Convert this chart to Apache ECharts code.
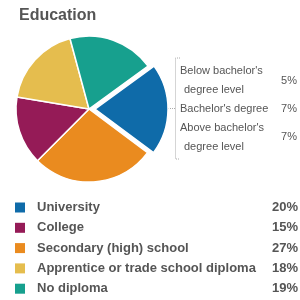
<!DOCTYPE html>
<html><head><meta charset="utf-8">
<script src="https://cdn.jsdelivr.net/npm/echarts@6/dist/echarts.min.js"></script>
<style>html,body{margin:0;padding:0;background:#fff}#c{width:300px;height:300px}</style>
</head><body><div id="c"></div>
<script>
const categories = ['University', 'College', 'Secondary (high) school', 'Apprentice or trade school diploma', 'No diploma'];
const values = [20, 15, 27, 18, 19];
const colors = ['#0F6BA9', '#951B57', '#EA8B1F', '#E5BD4E', '#17A08E'];
const pieOrder = ['University', 'Secondary (high) school', 'College', 'Apprentice or trade school diploma', 'No diploma'];
const subLabels = [["Below bachelor's", 'degree level'], ["Bachelor's degree"], ["Above bachelor's", 'degree level']];
const subValues = [5, 7, 7];

const chart = echarts.init(document.getElementById('c'), null, {renderer: 'canvas'});
const pieData = pieOrder.map(n => {
  const i = categories.indexOf(n);
  return {name: n, value: values[i], itemStyle: {color: colors[i]}, selected: n === 'University'};
});

const txt = '#555';
const graphics = [];
graphics.push({type: 'polyline', shape: {points: [[180, 58], [175.5, 58], [175.5, 159], [180, 159]]}, style: {stroke: '#aaa', lineWidth: 1, lineDash: [1, 1], fill: null}, silent: true});
graphics.push({type: 'line', shape: {x1: 168, y1: 108.5, x2: 175.5, y2: 108.5}, style: {stroke: '#aaa', lineWidth: 1, lineDash: [1, 1]}, silent: true});
const lineYs = [[71, 90], [109], [128, 147]];
const pctYs = [81, 109, 137];
subLabels.forEach((ls, i) => {
  ls.forEach((t, j) => {
    graphics.push({type: 'text', x: j === 0 ? 180 : 184, y: lineYs[i][j], silent: true,
      style: {text: t, fill: txt, font: '11px "Liberation Sans", Arial, sans-serif', textVerticalAlign: 'middle', textAlign: 'left'}});
  });
  graphics.push({type: 'text', x: 297, y: pctYs[i], silent: true,
    style: {text: subValues[i] + '%', fill: txt, font: '11px "Liberation Sans", Arial, sans-serif', textVerticalAlign: 'middle', textAlign: 'right'}});
});

chart.setOption({
  animation: false,
  title: {text: 'Education', left: 14, top: 3, textStyle: {fontFamily: '"Liberation Sans", Arial, sans-serif', fontSize: 16, fontWeight: 'bold', color: txt}},
  legend: {
    orient: 'vertical', left: 15, top: 201, padding: 0,
    data: categories,
    icon: 'rect', itemWidth: 10, itemHeight: 10, itemGap: 7.3,
    itemStyle: {borderWidth: 0},
    selectedMode: false,
    formatter: n => '{a|' + n + '}{b|' + values[categories.indexOf(n)] + '%}',
    textStyle: {
      rich: {
        a: {width: 237, fontFamily: '"Liberation Sans", Arial, sans-serif', fontSize: 13, fontWeight: 'bold', color: txt, lineHeight: 14, padding: [0, 0, 0, 7]},
        b: {width: 24, align: 'right', fontFamily: '"Liberation Sans", Arial, sans-serif', fontSize: 13, fontWeight: 'bold', color: txt, lineHeight: 14}
      }
    }
  },
  series: [{
    type: 'pie', center: [89, 109], radius: 73, startAngle: 36, clockwise: true,
    selectedMode: 'single', selectedOffset: 6,
    label: {show: false}, labelLine: {show: false},
    itemStyle: {borderColor: '#fff', borderWidth: 1.5},
    emphasis: {disabled: true}, silent: true,
    data: pieData
  }],
  graphic: graphics
});
</script></body></html>
